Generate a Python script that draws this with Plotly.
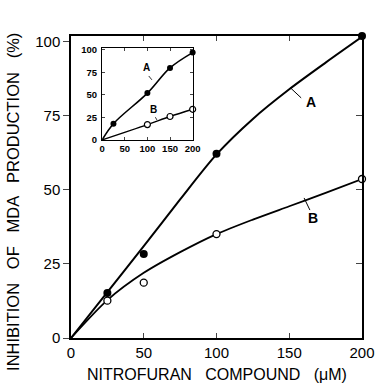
import plotly.graph_objects as go

# ---- data ----
dose = [25, 50, 100, 200]
pts_A = [15.2, 28.4, 62.2, 102.0]
pts_B = [12.6, 18.7, 35.1, 53.7]

curve_x = [0, 25, 50, 75, 100, 125, 150, 175, 200]
curve_A = [0, 15.5, 31, 46.8, 62, 74, 84, 93, 101.7]
curve_B = [0, 12.8, 22, 29, 35.1, 40, 44.5, 49, 53.7]

inset_dose_A = [25, 100, 150, 200]
inset_pts_A = [18, 52, 80, 97]
inset_dose_B = [100, 150, 200]
inset_pts_B = [17, 26, 34]

x_ticks = [0, 50, 100, 150, 200]
y_ticks = [0, 25, 50, 75, 100]

FONT = "Liberation Sans, Arial, sans-serif"

fig = go.Figure()

# main curves
fig.add_trace(go.Scatter(x=curve_x, y=curve_A, mode="lines", line=dict(color="black", width=2, shape="spline", smoothing=0.8),
                         xaxis="x", yaxis="y", showlegend=False, hoverinfo="skip"))
fig.add_trace(go.Scatter(x=curve_x, y=curve_B, mode="lines", line=dict(color="black", width=1.8, shape="spline", smoothing=0.8),
                         xaxis="x", yaxis="y", showlegend=False, hoverinfo="skip"))
fig.add_trace(go.Scatter(x=dose, y=pts_A, mode="markers",
                         marker=dict(symbol="circle", size=8, color="black"),
                         xaxis="x", yaxis="y", showlegend=False, cliponaxis=False))
fig.add_trace(go.Scatter(x=dose, y=pts_B, mode="markers",
                         marker=dict(symbol="circle", size=7, color="white", line=dict(color="black", width=1.3)),
                         xaxis="x", yaxis="y", showlegend=False, cliponaxis=False))

# leader lines main
fig.add_trace(go.Scatter(x=[150.8, 158.2], y=[84.5, 81.1], mode="lines", line=dict(color="black", width=1),
                         xaxis="x", yaxis="y", showlegend=False, hoverinfo="skip"))
fig.add_trace(go.Scatter(x=[160.2, 164.2], y=[47.3, 43.2], mode="lines", line=dict(color="black", width=1),
                         xaxis="x", yaxis="y", showlegend=False, hoverinfo="skip"))

# inset
fig.add_trace(go.Scatter(x=[0] + inset_dose_A, y=[0] + inset_pts_A, mode="lines",
                         line=dict(color="black", width=1.6, shape="spline"),
                         xaxis="x2", yaxis="y2", showlegend=False, hoverinfo="skip"))
fig.add_trace(go.Scatter(x=[0] + inset_dose_B, y=[0] + inset_pts_B, mode="lines",
                         line=dict(color="black", width=1.4, shape="spline"),
                         xaxis="x2", yaxis="y2", showlegend=False, hoverinfo="skip"))
fig.add_trace(go.Scatter(x=inset_dose_A, y=inset_pts_A, mode="markers",
                         marker=dict(symbol="circle", size=6, color="black"),
                         xaxis="x2", yaxis="y2", showlegend=False, cliponaxis=False))
fig.add_trace(go.Scatter(x=inset_dose_B, y=inset_pts_B, mode="markers",
                         marker=dict(symbol="circle", size=6, color="white", line=dict(color="black", width=1.2)),
                         xaxis="x2", yaxis="y2", showlegend=False, cliponaxis=False))
fig.add_trace(go.Scatter(x=[103, 110], y=[71, 66.7], mode="lines", line=dict(color="black", width=0.8),
                         xaxis="x2", yaxis="y2", showlegend=False, hoverinfo="skip"))
fig.add_trace(go.Scatter(x=[117.6, 121], y=[25.2, 22.2], mode="lines", line=dict(color="black", width=0.8),
                         xaxis="x2", yaxis="y2", showlegend=False, hoverinfo="skip"))

# dummy trace for right axis
fig.add_trace(go.Scatter(x=[None], y=[None], xaxis="x", yaxis="y3", showlegend=False))

main_tickfont = dict(family=FONT, size=15, color="black")
inset_tickfont = dict(family=FONT, size=9.5, color="black")

fig.update_layout(
    width=387, height=391,
    margin=dict(l=71, r=16, t=36, b=53),
    paper_bgcolor="white", plot_bgcolor="white",
    showlegend=False,
    xaxis=dict(range=[0, 200], tickvals=x_ticks, ticks="inside", ticklen=5, tickwidth=1.2,
               showline=True, linecolor="black", linewidth=1.5, mirror="ticks",
               showgrid=False, zeroline=False, tickfont=main_tickfont, domain=[0, 1]),
    yaxis=dict(range=[0, 102], tickvals=y_ticks, ticks="outside", ticklen=6, tickwidth=1.2,
               showline=True, linecolor="black", linewidth=1.5, mirror=True,
               showgrid=False, zeroline=False, tickfont=main_tickfont, domain=[0, 1]),
    yaxis3=dict(range=[0, 102], overlaying="y", side="right", tickvals=[25, 50, 75], ticks="inside",
                ticklen=6, tickwidth=1.2, showticklabels=False, showgrid=False, zeroline=False,
                showline=False),
    xaxis2=dict(range=[0, 200], tickvals=x_ticks, ticktext=[f"<b>{v}</b>" for v in x_ticks],
                ticks="inside", ticklen=3, tickwidth=1,
                showline=True, linecolor="black", linewidth=1.2, mirror="ticks",
                showgrid=False, zeroline=False, tickfont=inset_tickfont,
                domain=[0.107, 0.418], anchor="y2", ticklabelstandoff=0),
    yaxis2=dict(range=[0, 102], tickvals=y_ticks, ticktext=[f"<b>{v}</b>" for v in y_ticks],
                ticks="inside", ticklen=3, tickwidth=1,
                showline=True, linecolor="black", linewidth=1.2, mirror="ticks",
                showgrid=False, zeroline=False, tickfont=inset_tickfont,
                domain=[0.656, 0.960], anchor="x2", ticklabelstandoff=2),
    font=dict(family=FONT, color="black"),
)

ann = []
ann.append(dict(text="<b>A</b>", x=164.9, y=79.7, xref="x", yref="y", showarrow=False,
                font=dict(family=FONT, size=14, color="black")))
ann.append(dict(text="<b>B</b>", x=166.2, y=40.5, xref="x", yref="y", showarrow=False,
                font=dict(family=FONT, size=14, color="black")))
ann.append(dict(text="<b>A</b>", x=97, y=80, xref="x2", yref="y2", showarrow=False,
                font=dict(family=FONT, size=10, color="black")))
ann.append(dict(text="<b>B</b>", x=114, y=34, xref="x2", yref="y2", showarrow=False,
                font=dict(family=FONT, size=10, color="black")))
ann.append(dict(text="NITROFURAN   COMPOUND   (μM)", x=0.5, y=-0.085, xref="paper", yref="paper",
                xanchor="center", yanchor="top", showarrow=False,
                font=dict(family=FONT, size=16, color="black")))
ann.append(dict(text="INHIBITION   OF   MDA   PRODUCTION   (%)", x=-0.2, y=0.45, xref="paper", yref="paper",
                xanchor="center", yanchor="middle", textangle=-90, showarrow=False,
                font=dict(family=FONT, size=16.5, color="black")))
fig.update_layout(annotations=ann)

fig.write_html("out.html", config={"displayModeBar": False},
               post_script="document.body.style.margin='0px';")
